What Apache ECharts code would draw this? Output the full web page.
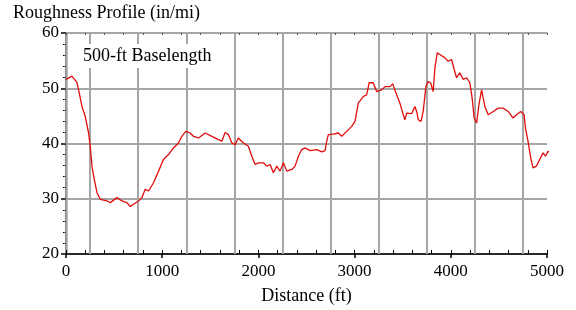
<!DOCTYPE html>
<html>
<head>
<meta charset="utf-8">
<script src="https://cdn.jsdelivr.net/npm/echarts@6/dist/echarts.min.js"></script>
<style>
  html, body { margin: 0; padding: 0; background: #fff; }
  #chart { width: 576px; height: 310px; }
</style>
</head>
<body>
<div id="chart"></div>
<script>
// distance along the profile (ft) and roughness (in/mi)
const distance = [0, 62, 114, 131, 166, 200, 235, 252, 270, 287, 322, 356, 426, 460, 530, 582, 633, 668, 702, 754,
  789, 823, 858, 910, 962, 1013, 1065, 1117, 1169, 1204, 1245, 1291, 1325, 1377, 1447, 1516, 1585, 1620, 1654, 1689,
  1724, 1758, 1792, 1844, 1896, 1931, 1966, 2000, 2052, 2087, 2122, 2156, 2191, 2225, 2260, 2295, 2347, 2381, 2416, 2451,
  2485, 2537, 2607, 2659, 2693, 2710, 2727, 2779, 2831, 2866, 2918, 2970, 3004, 3038, 3090, 3125, 3152, 3194, 3229, 3246,
  3281, 3316, 3368, 3396, 3437, 3471, 3506, 3523, 3541, 3593, 3627, 3645, 3662, 3690, 3713, 3741, 3765, 3790, 3817, 3835,
  3859, 3887, 3939, 3973, 4008, 4035, 4060, 4094, 4129, 4164, 4198, 4222, 4243, 4268, 4292, 4320, 4354, 4389, 4441, 4493,
  4544, 4596, 4648, 4683, 4727, 4762, 4776, 4803, 4831, 4855, 4890, 4924, 4959, 4984, 5011, 5053];
const roughness = [51.6, 52.2, 51.0, 49.7, 46.7, 44.9, 41.9, 39.5, 35.9, 34.1, 31.1, 29.9, 29.6, 29.3, 30.2, 29.6, 29.3, 28.6, 29.0, 29.6,
  30.2, 31.7, 31.4, 32.9, 35.0, 37.1, 38.0, 39.2, 40.1, 41.3, 42.2, 41.9, 41.3, 41.0, 41.9, 41.3, 40.7, 40.4, 42.0, 41.6,
  40.1, 39.8, 41.0, 40.1, 39.5, 37.7, 36.2, 36.5, 36.5, 35.9, 36.2, 34.7, 35.9, 35.0, 36.5, 35.0, 35.3, 35.9, 37.7, 38.9,
  39.2, 38.7, 38.9, 38.5, 38.7, 40.4, 41.6, 41.7, 41.9, 41.3, 42.2, 43.1, 44.0, 47.3, 48.5, 48.8, 51.0, 51.0, 49.4, 49.2,
  49.7, 50.3, 50.3, 50.8, 48.8, 47.3, 45.2, 44.3, 45.5, 45.4, 46.7, 45.8, 44.3, 44.0, 45.8, 50.3, 51.2, 51.0, 49.4, 53.7,
  56.4, 56.1, 55.5, 54.9, 55.2, 53.4, 51.9, 52.8, 51.6, 51.9, 51.0, 48.2, 44.6, 43.7, 47.0, 49.7, 46.7, 45.2, 45.8, 46.4,
  46.4, 45.8, 44.6, 45.2, 45.8, 45.2, 42.8, 40.4, 37.4, 35.6, 35.9, 37.1, 38.3, 37.7, 38.6, 38.2];
// 500-ft baselength section boundaries
const sectionBreaks = [250, 750, 1250, 1750, 2250, 2750, 3250, 3750, 4250, 4750];

const font = "Liberation Serif";
const gridGray = "#a6a6a6";

const chart = echarts.init(document.getElementById("chart"), null, { renderer: "canvas" });

const option = {
  animation: false,
  backgroundColor: "#fff",
  textStyle: { fontFamily: font },
  grid: { left: 66, right: 29, top: 33, bottom: 55.5 },
  graphic: [
    {
      type: "text", left: 13, top: 4, z: 100,
      style: { text: "Roughness Profile (in/mi)", font: "18px " + font, fill: "#000" }
    },
    {
      type: "text", left: 80, top: 44, z: 100,
      style: {
        text: "500-ft Baselength", font: "18px " + font, fill: "#000",
        backgroundColor: "#fff", padding: [3, 3, 3, 3]
      }
    }
  ],
  xAxis: [
    {
      type: "value", position: "bottom", min: 0, max: 5000, interval: 1000,
      name: "Distance (ft)", nameLocation: "middle", nameGap: 33,
      nameTextStyle: { fontSize: 18, fontFamily: font, color: "#000" },
      axisLine: { lineStyle: { color: "#000", width: 1.5 } },
      axisTick: { inside: false, length: 4, lineStyle: { color: "#000", width: 1.5 } },
      axisLabel: { fontSize: 17, fontFamily: font, color: "#000", margin: 9, formatter: v => String(v) },
      splitLine: { show: false }
    },
    {
      type: "value", position: "bottom", min: 0, max: 5000, interval: 200,
      axisLine: { show: false },
      axisTick: { inside: true, length: 4, lineStyle: { color: "#000", width: 1 } },
      axisLabel: { show: false },
      splitLine: { show: false }
    },
    {
      type: "value", position: "top", min: 0, max: 5000, interval: 200,
      axisLine: { lineStyle: { color: gridGray, width: 1.5 } },
      axisTick: { inside: true, length: 2, lineStyle: { color: "#555", width: 1 } },
      axisLabel: { show: false },
      splitLine: { show: false }
    }
  ],
  yAxis: [
    {
      type: "value", position: "left", min: 20, max: 60, interval: 10,
      axisLine: { show: true, lineStyle: { color: "#000", width: 1.5 } },
      axisTick: { show: true, inside: false, length: 5, lineStyle: { color: "#000", width: 1.5 } },
      minorTick: { show: true, splitNumber: 5, length: 3, lineStyle: { color: "#000", width: 1 } },
      axisLabel: { fontSize: 17, fontFamily: font, color: "#000", margin: 7 },
      splitLine: { show: true, lineStyle: { color: gridGray, width: 2 } }
    },
    {
      type: "value", position: "right", min: 20, max: 60, interval: 2,
      axisLine: { show: true, lineStyle: { color: gridGray, width: 2.5 } },
      axisTick: { show: true, inside: true, length: 2, lineStyle: { color: "#555", width: 1 } },
      axisLabel: { show: false },
      splitLine: { show: false }
    }
  ],
  series: [
    {
      type: "line",
      xAxisIndex: 0,
      yAxisIndex: 0,
      data: distance.map((d, i) => [d, roughness[i]]),
      showSymbol: false,
      clip: false,
      lineStyle: { color: "#e00d0d", width: 1.3 },
      markLine: {
        silent: true,
        symbol: ["none", "none"],
        label: { show: false },
        lineStyle: { color: gridGray, width: 2, type: "solid" },
        data: sectionBreaks.map(v => ({ xAxis: v }))
      },
      z: 5
    }
  ]
};

chart.setOption(option);
</script>
</body>
</html>
